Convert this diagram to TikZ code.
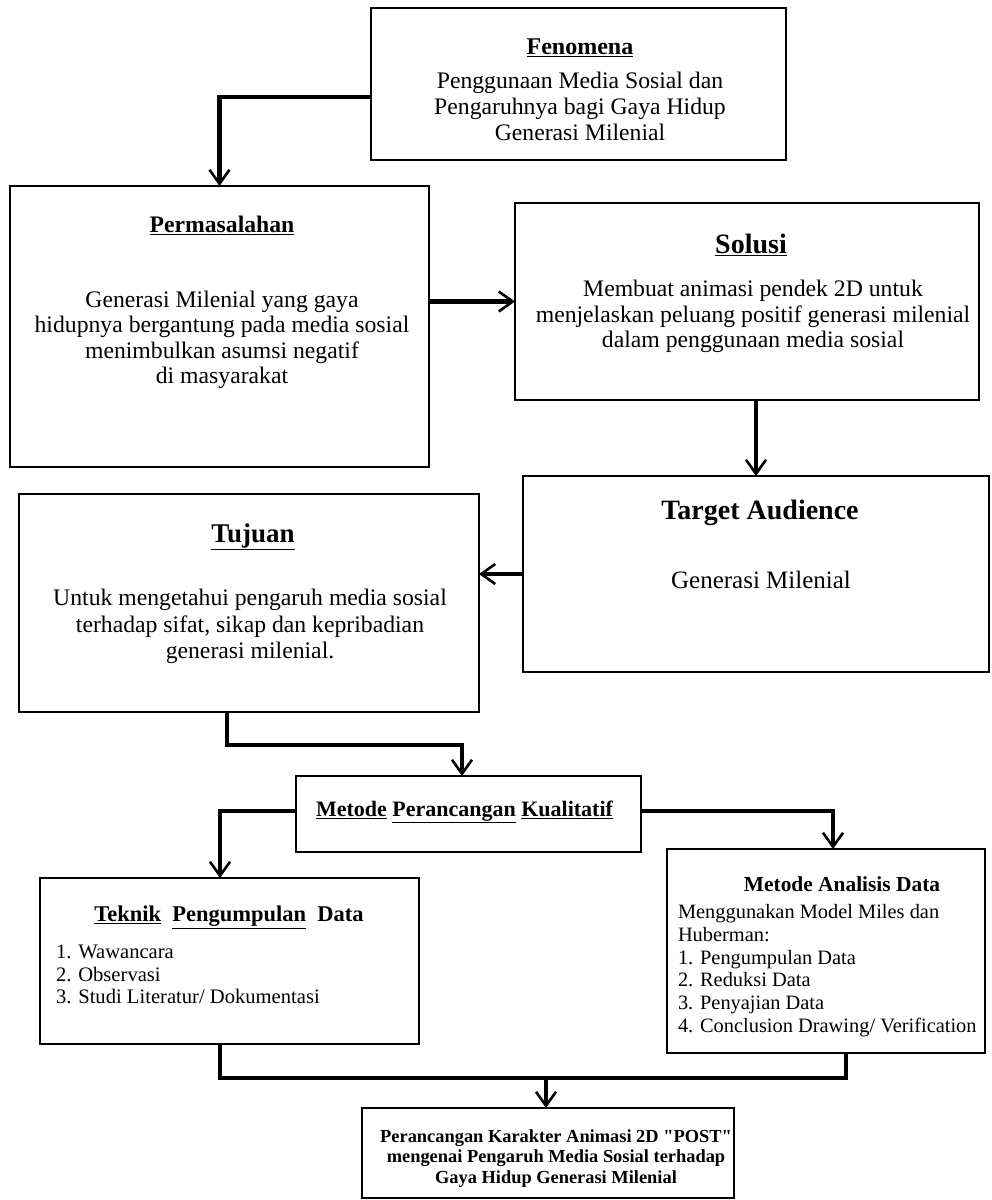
\documentclass[tikz,border=0pt]{standalone}
\usepackage{fontspec}
\setmainfont{Liberation Serif}[Ligatures=TeXOff]
\usetikzlibrary{arrows.meta,calc}
\newcommand{\fsz}[2]{\fontsize{#1pt}{#2pt}\selectfont}
\tikzset{
  box/.style={draw=black, line width=1.8pt, inner sep=0pt, outer sep=0pt, fill=white},
  conn/.style={line width=4.5pt, -{Straight Barb[length=14pt,width=20pt,line width=2.6pt]}},
  thickline/.style={line width=4.5pt},
  txt/.style={inner sep=0pt, outer sep=0pt, align=center, text=black},
  ltxt/.style={inner sep=0pt, outer sep=0pt, align=left, anchor=west, text=black},
}
\begin{document}
\begin{tikzpicture}[x=1pt,y=-1pt]
\useasboundingbox (0,0) rectangle (992,1200);
\fill[white] (0,0) rectangle (992,1200);
% boxes
\node[box, minimum width=415pt, minimum height=152pt] (fen) at (578.5,84) {};
\node[box, minimum width=419pt, minimum height=281pt] (perm) at (219.5,326.5) {};
\node[box, minimum width=464pt, minimum height=197pt] (sol) at (747,301.5) {};
\node[box, minimum width=466pt, minimum height=196pt] (tgt) at (756,574) {};
\node[box, minimum width=460pt, minimum height=218pt] (tuj) at (249,603) {};
\node[box, minimum width=345pt, minimum height=76pt] (met) at (468.5,814) {};
\node[box, minimum width=379pt, minimum height=166pt] (tek) at (229.5,961) {};
\node[box, minimum width=318pt, minimum height=204pt] (ana) at (826,951) {};
\node[box, minimum width=372pt, minimum height=90pt] (fin) at (548,1153) {};
% texts
\node[txt, font=\fsz{24}{26}\bfseries] (fent) at (580,48) {\underline{Fenomena}};
\node[txt, font=\fsz{23.7}{26}] (fenb) at (580,106) {Penggunaan Media Sosial dan\\Pengaruhnya bagi Gaya Hidup\\Generasi Milenial};
\node[txt, font=\fsz{23.7}{25.5}\bfseries] (permt) at (222,225) {\underline{Permasalahan}};
\node[txt, font=\fsz{23.7}{25.5}] (permb) at (222,340) {Generasi Milenial yang gaya\\hidupnya bergantung pada media sosial\\menimbulkan asumsi negatif\\di masyarakat};
\node[txt, font=\fsz{28}{30}\bfseries] (solt) at (751,245) {\underline{Solusi}};
\node[txt, font=\fsz{23.7}{25.7}] (solb) at (753,316.5) {Membuat animasi pendek 2D untuk\\menjelaskan peluang positif generasi milenial\\dalam penggunaan media sosial};
\node[txt, font=\fsz{28}{30}\bfseries] (tgtt) at (760,513) {Target Audience};
\node[txt, font=\fsz{25}{27}] (tgtb) at (761,580) {Generasi Milenial};
\node[txt, font=\fsz{27}{29}\bfseries] (tujt) at (253,537) {\underline{Tujuan}};
\node[txt, font=\fsz{23.7}{26.7}] (tujb) at (250,626.5) {Untuk mengetahui pengaruh media sosial\\terhadap sifat, sikap dan kepribadian\\generasi milenial.};
\node[txt, font=\fsz{22}{24}\bfseries] (mett) at (464.5,812) {\underline{Metode} \underline{Perancangan} \underline{Kualitatif}};
\node[txt, font=\fsz{22.5}{24}\bfseries] (tekt) at (229,917) {\underline{Teknik}\ \ \underline{Pengumpulan}\ \ Data};
\node[ltxt, font=\fsz{20.6}{22.5}] (tekb) at (56,974.5) {1. Wawancara\\2. Observasi\\3. Studi Literatur/ Dokumentasi};
\node[txt, font=\fsz{21.4}{23}\bfseries] (anat) at (842,884) {Metode Analisis Data};
\node[ltxt, font=\fsz{20.4}{22.7}] (anab) at (678,970.5) {Menggunakan Model Miles dan\\Huberman:\\1. Pengumpulan Data\\2. Reduksi Data\\3. Penyajian Data\\4. Conclusion Drawing/ Verification};
\node[txt, font=\fsz{18.4}{20.5}\bfseries] (finb) at (556,1158.5) {Perancangan Karakter Animasi 2D "POST"\\mengenai Pengaruh Media Sosial terhadap\\Gaya Hidup Generasi Milenial};
% connectors
\draw[conn] ([yshift=-13pt]fen.west) -| (perm.north);
\draw[conn] (perm.east |- sol.west) -- (sol.west);
\draw[conn] (sol.south -| tgt.north) -- (tgt.north);
\draw[conn] (tgt.west) -- (tgt.west -| tuj.east);
\coordinate (j1) at (462,745);
\draw[conn] ([xshift=-22pt]tuj.south) |- (j1) -- (j1 |- met.north);
\draw[conn] ([yshift=3pt]met.west) -| ([xshift=-9.5pt]tek.north);
\draw[conn] ([yshift=3pt]met.east) -| ([xshift=7pt]ana.north);
\coordinate (m) at (546,1078);
\draw[thickline] ([xshift=-9.5pt]tek.south) |- (m);
\draw[thickline] ([xshift=20pt]ana.south) |- (m);
\draw[conn] (m) -- (m |- fin.north);
\end{tikzpicture}
\end{document}
